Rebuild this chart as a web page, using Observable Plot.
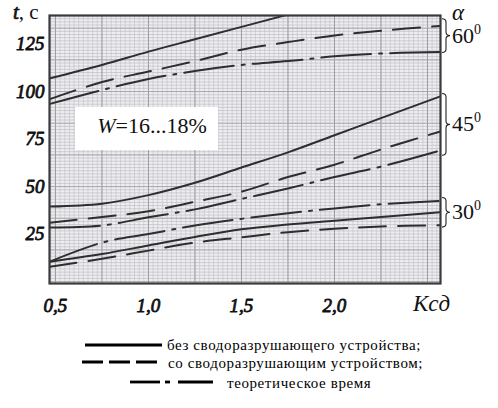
<!DOCTYPE html>
<html><head><meta charset="utf-8">
<script src="https://cdn.jsdelivr.net/npm/d3@7"></script>
<script src="https://cdn.jsdelivr.net/npm/@observablehq/plot@0.6"></script>
<style>
body{margin:0;background:#fff;}
#chart{width:498px;}
#chart svg{display:block;}
</style></head><body>
<div id="chart"></div>
<script>
const SERIF = "\"Liberation Serif\"";
// Kсд values (x)
const K = [0.47, 0.75, 1.0, 1.25, 1.5, 1.75, 2.0, 2.25, 2.57];
// t, c for each slope angle α
const t60_solid  = [107, 114, 121, 127.5, 134, 140.5, null, null, null];
const t60_dashed = [96, 105, 110.5, 116, 122, 126, 129.5, 132, 134.5];
const t60_theory = [93.5, 100.8, 106.6, 110.8, 114, 116, 118.5, 120, 120.8];
const t45_solid  = [39.5, 41, 45.5, 52, 60, 68, 77, 86, 97.5];
const t45_dashed = [31, 34, 37, 42, 47.3, 55, 61.5, 69.5, 79];
const t45_theory = [28.5, 29.5, 33.8, 38, 43.5, 49, 55, 60.5, 69];
const t30_solid  = [10.5, 14.5, 19, 23.5, 27.5, 30, 32, 34, 36.5];
const t30_dashed = [7.8, 12, 16.3, 20.5, 23.3, 26, 27.8, 29, 29.7];
const t30_theory = [10.5, 20.5, 25, 29.5, 33, 36, 38.5, 40.7, 42.5];

const xTicks = [0.5, 1.0, 1.5, 2.0];
const yTicks = [25, 50, 75, 100, 125];
const angleLabels = ["60", "45", "30"];
const braceTop = [138, 98.7, 44];
const braceBottom = [120.3, 66.2, 28.4];
const legendLabels = ["без сводоразрушающего устройства;", "со сводоразрушающим устройством;", "теоретическое время"];

const series = [
  {key: "60s", style: "solid", v: t60_solid},
  {key: "60d", style: "dashed", v: t60_dashed},
  {key: "60t", style: "theory", v: t60_theory},
  {key: "45s", style: "solid", v: t45_solid},
  {key: "45d", style: "dashed", v: t45_dashed},
  {key: "45t", style: "theory", v: t45_theory},
  {key: "30s", style: "solid", v: t30_solid},
  {key: "30d", style: "dashed", v: t30_dashed},
  {key: "30t", style: "theory", v: t30_theory}
];
const rows = series.flatMap(s => K.map((k, i) => ({k, t: s.v[i], key: s.key, style: s.style})));

// graph-paper grid
const minorX = d3.range(0.475, 2.57, 0.025);
const majorX = d3.range(0.5, 2.57, 0.25);
const minorY = d3.range(0, 140, 5 / 3);
const majorY = d3.range(0, 140, 25 / 3 * 2);

const lineStyle = {stroke: "#2e2e2e", strokeWidth: 2, curve: "catmull-rom", z: "key", clip: true};

function annotations(index, scales, values, dims) {
  const {width, height, marginLeft, marginRight, marginTop, marginBottom} = dims;
  const right = width - marginRight, bottom = height - marginBottom;
  const g = d3.create("svg:g").attr("fill", "#111").attr("text-anchor", "start");
  // W box
  g.append("rect").attr("x", marginLeft + 26).attr("y", marginTop + 92)
    .attr("width", 143).attr("height", 43).attr("fill", "#fff");
  const wt = g.append("text").attr("x", marginLeft + 103).attr("y", marginTop + 118)
    .attr("text-anchor", "middle").attr("font-size", 22);
  wt.append("tspan").attr("font-style", "italic").text("W");
  wt.append("tspan").text("=16...18%");
  // braces and angle labels
  angleLabels.forEach((lab, i) => {
    const y0 = scales.y(braceTop[i]), y1 = scales.y(braceBottom[i]), ym = (y0 + y1) / 2;
    const x0 = right + 2, xm = x0 + 4, xt = x0 + 8, r = 3.5;
    g.append("path")
      .attr("d", `M${x0},${y0} Q${xm},${y0} ${xm},${y0 + r} L${xm},${ym - r} Q${xm},${ym} ${xt},${ym} Q${xm},${ym} ${xm},${ym + r} L${xm},${y1 - r} Q${xm},${y1} ${x0},${y1}`)
      .attr("fill", "none").attr("stroke", "#222").attr("stroke-width", 1.1);
    const t = g.append("text").attr("x", right + 12).attr("y", ym + 7).attr("font-size", 22);
    t.append("tspan").text(lab);
    t.append("tspan").attr("font-size", 14).attr("dy", -9).text("0");
  });
  // axis titles
  const tc = g.append("text").attr("x", 13).attr("y", 19).attr("font-size", 21);
  tc.append("tspan").attr("font-style", "italic").attr("stroke", "#111").attr("stroke-width", 0.7).text("t");
  tc.append("tspan").text(", c");
  g.append("text").attr("x", right + 12).attr("y", 20).attr("font-size", 23).attr("font-style", "italic").text("α");
  g.append("text").attr("x", right - 27).attr("y", bottom + 28).attr("font-size", 23).attr("font-style", "italic").text("Kсд");
  return g.node();
}

const chart = Plot.plot({
  width: 498, height: 320,
  marginLeft: 49, marginRight: 58, marginTop: 15, marginBottom: 37,
  x: {domain: [0.468, 2.57]},
  y: {domain: [-1, 140]},
  style: {background: "transparent", color: "#111"},
  marks: [
    Plot.frame({fill: "#eeeef1", stroke: null}),
    Plot.ruleX(minorX, {stroke: "#c6c6cd", strokeWidth: 0.7}),
    Plot.ruleY(minorY, {stroke: "#bdbdc5", strokeWidth: 0.7}),
    Plot.ruleX(majorX, {stroke: "#9c9ca4", strokeWidth: 1}),
    Plot.ruleY(majorY, {stroke: "#a6a6ae", strokeWidth: 0.9}),
    Plot.line(rows.filter(d => d.style === "solid"), {x: "k", y: "t", ...lineStyle}),
    Plot.line(rows.filter(d => d.style === "dashed"), {x: "k", y: "t", ...lineStyle, strokeDasharray: "27,12"}),
    Plot.line(rows.filter(d => d.style === "theory"), {x: "k", y: "t", ...lineStyle, strokeDasharray: "50,8,3,8"}),
    Plot.frame({stroke: "#3a3a3a", strokeWidth: 2.2}),
    Plot.axisX({ticks: xTicks, tickSize: 0, tickPadding: 15, label: null,
      tickFormat: d => d.toFixed(1).replace(".", ","),
      fontSize: 19, fontStyle: "italic",
      textStroke: "#111", textStrokeWidth: 0.8}),
    Plot.axisY({ticks: yTicks, tickSize: 0, tickPadding: 5, label: null,
      fontSize: 19, fontStyle: "italic",
      textStroke: "#111", textStrokeWidth: 0.8}),
    annotations
  ]
});
document.getElementById("chart").append(chart);

// legend below the plot
const leg = d3.select("#chart").append("svg").attr("width", 498).attr("height", 88);
const lg = leg.append("g").attr("stroke", "#000").attr("stroke-width", 2.8);
lg.append("line").attr("x1", 85).attr("x2", 162).attr("y1", 25).attr("y2", 25);
lg.append("line").attr("x1", 82).attr("x2", 160).attr("y1", 42).attr("y2", 42).attr("stroke-dasharray", "21,6");
lg.append("line").attr("x1", 130).attr("x2", 160).attr("y1", 62).attr("y2", 62);
lg.append("line").attr("x1", 165).attr("x2", 170).attr("y1", 62).attr("y2", 62);
lg.append("line").attr("x1", 178).attr("x2", 213).attr("y1", 62).attr("y2", 62);
const legX = [167, 168, 227], legY = [25, 43, 63];
legendLabels.forEach((s, i) => {
  leg.append("text").attr("x", legX[i]).attr("y", legY[i]).attr("dy", "0.32em")
    .attr("font-size", 15).attr("letter-spacing", 0.6).attr("fill", "#000").text(s);
});

// set the serif face directly on every text element
d3.selectAll("#chart text").attr("font-family", SERIF);
d3.selectAll("#chart tspan").attr("font-family", SERIF);
</script>
</body></html>
